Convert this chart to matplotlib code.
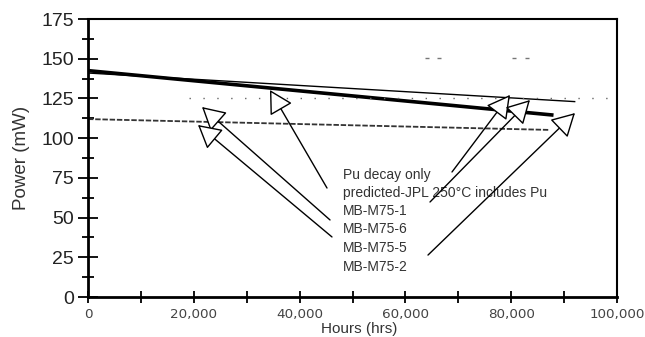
import numpy as np
import matplotlib.pyplot as plt
from matplotlib.ticker import MultipleLocator, FuncFormatter

plt.rcParams["font.family"] = ["Liberation Sans", "DejaVu Sans"]

# hours vs power (mW)
pu_decay_x = [0, 88000]
pu_decay_y = [142.5, 114.5]

jpl_x = [0, 92000]
jpl_y = [141.0, 123.0]

m75_dot_x = [19000, 100000]
m75_dot_y = [125.0, 125.0]

m75_dash_x = [0, 87000, 89500, 92000]
m75_dash_y = [112.0, 105.2, np.nan, 104.2]

upper_dots_x = [64000, 66300, 80600, 83000]
upper_dots_y = [150.6, 150.6, 150.6, 150.6]

labels = [
    "Pu decay only",
    "predicted-JPL 250\u00b0C includes Pu",
    "MB-M75-1",
    "MB-M75-6",
    "MB-M75-5",
    "MB-M75-2",
]
label_x = 48200
label_y = [76.8, 65.5, 54.1, 42.8, 30.8, 18.9]

# arrows: (tail x, tail y, tip x, tip y)
arrows = [
    (45180, 68.6, 34400, 130.3),
    (45750, 48.5, 21550, 119.6),
    (46120, 37.8, 20790, 108.3),
    (68810, 78.7, 79770, 127.2),
    (64650, 59.8, 83550, 124.0),
    (64270, 26.4, 92060, 115.8),
]

fig = plt.figure(figsize=(6.45, 3.37), dpi=100)
ax = fig.add_axes([88 / 645, 1 - 297 / 337, 529 / 645, 278 / 337])

ax.plot(pu_decay_x, pu_decay_y, color="black", lw=2.6, solid_capstyle="butt")
ax.plot(jpl_x, jpl_y, color="black", lw=1.0)
ax.plot(m75_dot_x, m75_dot_y, color="#666666", lw=1.0, linestyle=(0, (1, 9)))
ax.plot(m75_dash_x, m75_dash_y, color="#333333", lw=1.3, linestyle=(0, (3, 1)))
ax.plot(upper_dots_x, upper_dots_y, color="#777777", lw=0, marker="_",
        ms=3, mew=1.0)

for txt, yy in zip(labels, label_y):
    ax.text(label_x, yy, txt, fontsize=10, color="#333333", ha="left", va="center")

for x0, y0, x1, y1 in arrows:
    ax.annotate(
        "", xy=(x1, y1), xytext=(x0, y0),
        arrowprops=dict(
            arrowstyle="-|>,head_length=1.45,head_width=0.8",
            mutation_scale=10, fc="white", ec="black", lw=1.0,
            shrinkA=0, shrinkB=0,
        ),
    )

ax.set_xlim(0, 100000)
ax.set_ylim(0, 175)

ax.xaxis.set_major_locator(MultipleLocator(20000))
ax.xaxis.set_minor_locator(MultipleLocator(10000))
ax.yaxis.set_major_locator(MultipleLocator(25))
ax.yaxis.set_minor_locator(MultipleLocator(12.5))
ax.xaxis.set_major_formatter(FuncFormatter(lambda v, p: f"{int(v):,}"))

ax.tick_params(axis="y", which="major", direction="inout", length=14, width=1.3,
               labelsize=14, pad=3, colors="black", labelcolor="#222222")
ax.tick_params(axis="y", which="minor", direction="inout", length=8, width=1.3)
ax.tick_params(axis="x", which="both", direction="inout", length=8, width=1.3,
               pad=4)
ax.tick_params(axis="x", which="major", labelsize=9.7, labelcolor="#444444")
for lab in ax.get_xticklabels():
    lab.set_family("DejaVu Sans")

for side in ["left", "bottom"]:
    ax.spines[side].set_linewidth(2.0)
for side in ["top", "right"]:
    ax.spines[side].set_linewidth(1.5)

ax.set_ylabel("Power (mW)", fontsize=13.5, color="#333333")
ax.yaxis.set_label_coords(-0.11, 0.5)
ax.text(0.513, -0.09, "Hours (hrs)", transform=ax.transAxes, fontsize=11,
        color="#333333", ha="center", va="top")

fig.savefig("out.png", dpi=100)
